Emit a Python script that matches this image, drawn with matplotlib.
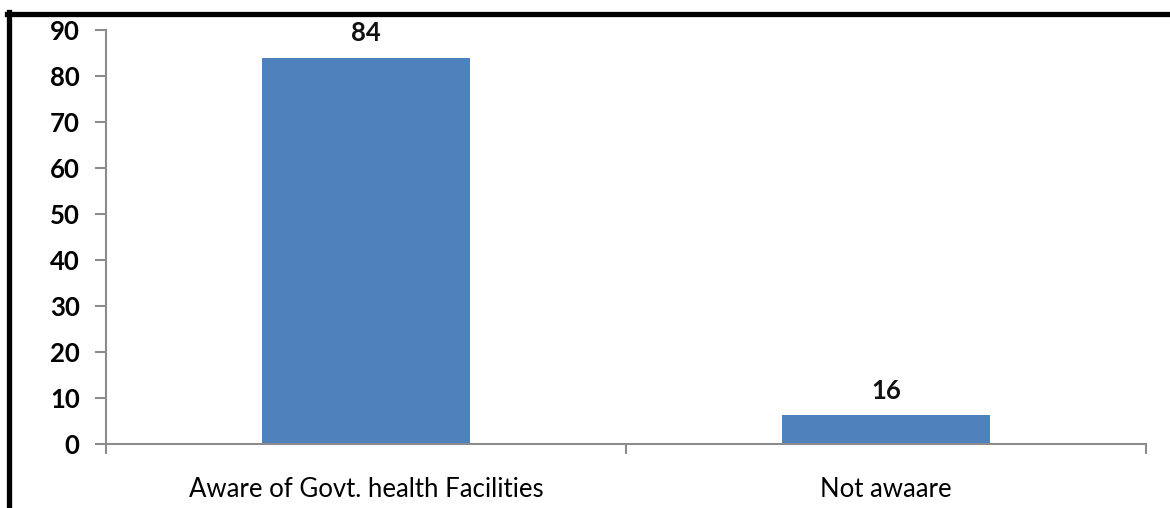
import matplotlib.pyplot as plt
from matplotlib.lines import Line2D
import numpy as np

# data
categories = ["Aware of Govt. health Facilities", "Not awaare"]
bar_heights = [84, 6.2]
bar_labels = ["84", "16"]
y_ticks = [0, 10, 20, 30, 40, 50, 60, 70, 80, 90]

bar_color = "#4f81bd"
axis_color = "#8c8c8c"

plt.rcParams['font.family'] = ['Lato', 'DejaVu Sans']

fig = plt.figure(figsize=(11.7, 5.08), dpi=100, facecolor='w')
ax = fig.add_axes([106 / 1170, 1 - 444 / 508, 1040 / 1170, 414 / 508])

x = np.arange(len(categories))
bars = ax.bar(x, bar_heights, width=0.4, color=bar_color, zorder=2)

for rect, label in zip(bars, bar_labels):
    ax.text(rect.get_x() + rect.get_width() / 2, rect.get_height() + 5.3, label,
            ha='center', va='center', fontsize=18.5, fontweight='bold', color='#111111')

ax.set_xlim(-0.5, len(categories) - 0.5)
ax.set_ylim(0, 90)
ax.set_yticks(y_ticks)
ax.set_yticklabels([str(t) for t in y_ticks], fontsize=18.5, fontweight='bold')

# category labels, ticks sit between the categories
ax.set_xticks(np.arange(-0.5, len(categories), 1.0))
ax.set_xticklabels([])
ax.set_xticks(x, minor=True)
ax.set_xticklabels(categories, minor=True, fontsize=18.5)
ax.tick_params(axis='x', which='minor', length=0, pad=24)
ax.tick_params(axis='x', which='major', length=7, width=1.5, color=axis_color, direction='out')
ax.tick_params(axis='y', length=8, width=1.5, color=axis_color, direction='out', pad=11)

for side in ['top', 'right']:
    ax.spines[side].set_visible(False)
for side in ['left', 'bottom']:
    ax.spines[side].set_color(axis_color)
    ax.spines[side].set_linewidth(1.5)

# black frame at the top and left of the picture
fig.add_artist(Line2D([7 / 1170, 1.0], [1 - 13.5 / 508, 1 - 13.5 / 508], color='black', lw=3.8,
                      transform=fig.transFigure))
fig.add_artist(Line2D([9 / 1170, 9 / 1170], [0.0, 1 - 11.5 / 508], color='black', lw=3.8,
                      transform=fig.transFigure))

plt.savefig("out.png", dpi=100, facecolor='w')
